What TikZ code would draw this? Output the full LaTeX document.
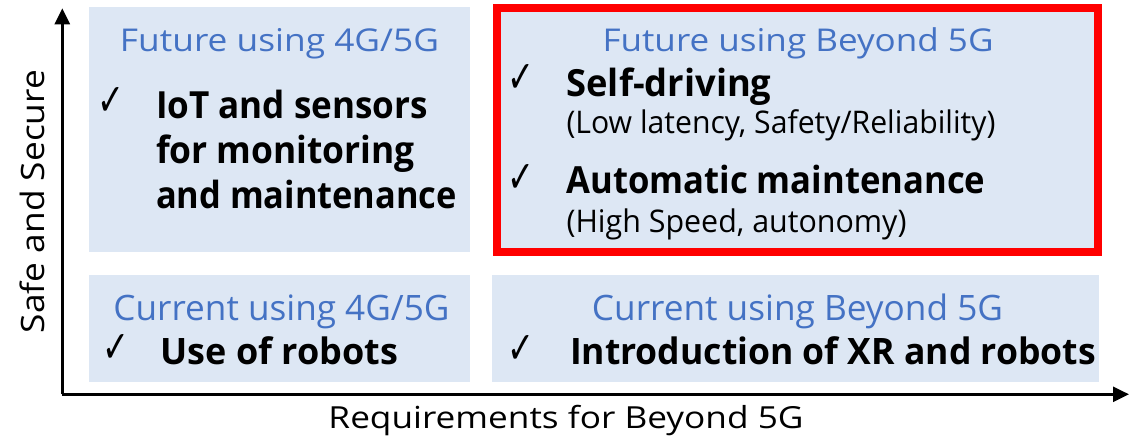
\documentclass[tikz,border=0pt]{standalone}
\usepackage{fontspec}
\usepackage{graphicx}
\setmainfont{Open Sans}
\newfontfamily\symfont{DejaVu Sans}
\usetikzlibrary{arrows.meta}
\definecolor{boxfill}{RGB}{221,231,244}
\definecolor{titleblue}{RGB}{68,114,196}
\definecolor{redframe}{RGB}{255,0,0}
\newcommand{\fw}[2]{\resizebox{#1}{\height}{#2}}
\newcommand{\fs}[1]{\fontsize{#1}{#1}\selectfont}
\newcommand{\chk}{\resizebox{27pt}{28pt}{\symfont ✓}}
\begin{document}
\begin{tikzpicture}[x=1pt,y=-1pt,
  quad/.style={fill=boxfill,draw=none},
  txt/.style={inner sep=0pt,outer sep=0pt},
  ttl/.style={txt,anchor=base,text=titleblue},
  item/.style={txt,anchor=base west},
  tick/.style={txt,anchor=center},
  axis/.style={line width=2.5pt,-{Triangle[length=16pt,width=15pt]}}]
\useasboundingbox (0,0) rectangle (1142,438);
% quadrants
\fill[boxfill] (89,7) rectangle (470,252);
\fill[boxfill] (497,8) rectangle (1098,252);
\draw[redframe,line width=8pt] (497,8) rectangle (1098,252);
\fill[boxfill] (89,275) rectangle (470,382);
\fill[boxfill] (492,275) rectangle (1099,382);
% axes
\coordinate (o) at (62.3,394.3);
\coordinate (ytip) at (62.3,8.3);
\coordinate (xtip) at (1129,394.3);
\draw[axis] (o) -- (ytip);
\draw[axis] (o) -- (xtip);
\node[txt,anchor=base,rotate=90] (ylab) at (45,201.5) {\fs{32.2}\fw{263pt}{Safe and Secure}};
\node[txt,anchor=base] (xlab) at (566,428.3) {\fs{30.4}\fw{475pt}{Requirements for Beyond 5G}};
% top-left
\node[ttl] (t1) at (279.5,51.7) {\fs{31.4}\fw{319pt}{Future using 4G/5G}};
\node[tick] (c1) at (111,102) {\chk};
\node[item] (a1) at (156,118.3) {\fs{37.4}\bfseries\fw{272pt}{IoT and sensors}};
\node[item] (a2) at (156,163.3) {\fs{37.4}\bfseries\fw{259pt}{for monitoring}};
\node[item] (a3) at (156,208.3) {\fs{37.4}\bfseries\fw{301pt}{and maintenance}};
% top-right
\node[ttl] (t2) at (798,51.7) {\fs{31.4}\fw{391pt}{Future using Beyond 5G}};
\node[tick] (c2) at (521,78.5) {\chk};
\node[item] (b1) at (566.5,96.7) {\fs{37.4}\bfseries\fw{205pt}{Self-driving}};
\node[item] (b2) at (566.5,134) {\fs{31.2}\fw{429pt}{(Low latency, Safety/Reliability)}};
\node[tick] (c3) at (521,178.5) {\chk};
\node[item] (b3) at (566.5,193.5) {\fs{37.4}\bfseries\fw{419pt}{Automatic maintenance}};
\node[item] (b4) at (566.5,233) {\fs{31.2}\fw{340pt}{(High Speed, autonomy)}};
% bottom-left
\node[ttl] (t3) at (281.5,320) {\fs{35}\fw{336pt}{Current using 4G/5G}};
\node[tick] (c4) at (115.5,348.5) {\chk};
\node[item] (d1) at (160.8,364) {\fs{36.4}\bfseries\fw{237.6pt}{Use of robots}};
% bottom-right
\node[ttl] (t4) at (797.5,320) {\fs{35}\fw{411pt}{Current using Beyond 5G}};
\node[tick] (c5) at (521,349) {\chk};
\node[item] (e1) at (570,364) {\fs{36.4}\bfseries\fw{526pt}{Introduction of XR and robots}};
\end{tikzpicture}
\end{document}
